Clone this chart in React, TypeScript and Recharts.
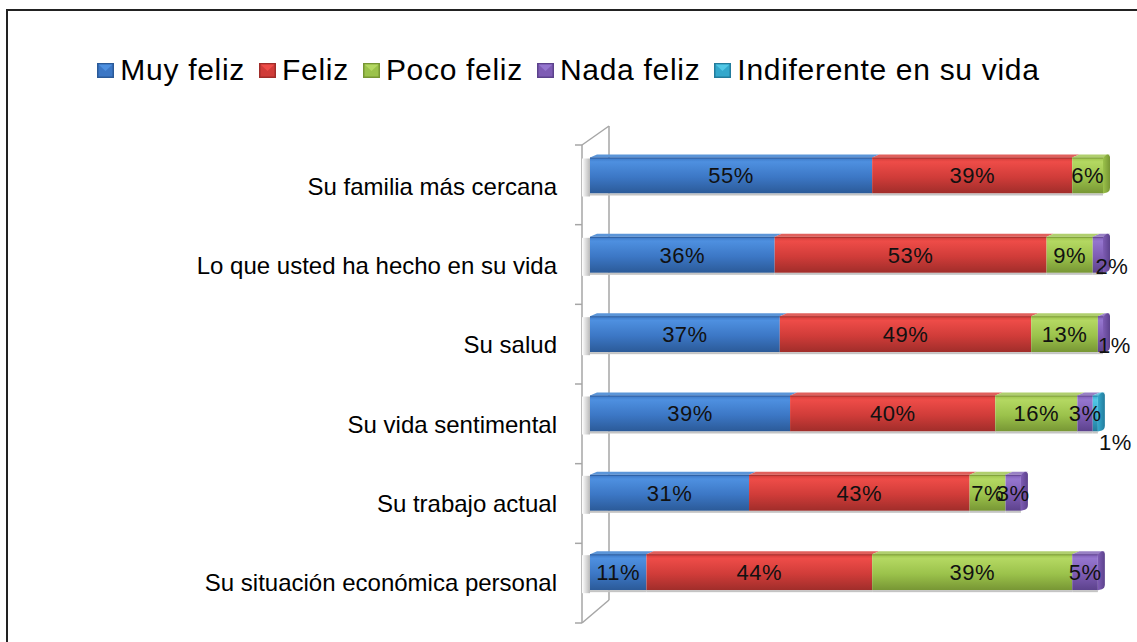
import { BarChart, Bar, XAxis, YAxis, Legend, LabelList } from "recharts";

// datos (porcentajes)
const categories = [
  "Su familia más cercana",
  "Lo que usted ha hecho en su vida",
  "Su salud",
  "Su vida sentimental",
  "Su trabajo actual",
  "Su situación económica personal",
];
const muyFeliz = [55, 36, 37, 39, 31, 11];
const feliz = [39, 53, 49, 40, 43, 44];
const pocoFeliz = [6, 9, 13, 16, 7, 39];
const nadaFeliz = [0, 2, 1, 3, 3, 5];
const indiferente = [0, 0, 0, 1, 0, 0];

const seriesNames = ["Muy feliz", "Feliz", "Poco feliz", "Nada feliz", "Indiferente en su vida"];
const seriesKeys = ["muy", "feliz", "poco", "nada", "indif"];
const seriesValues = [muyFeliz, feliz, pocoFeliz, nadaFeliz, indiferente];

const colors = [
  { light: "#4e90e0", mid: "#3c77c5", dark: "#2b5a98", top: "#5b95d8" },
  { light: "#ee4c48", mid: "#d03c39", dark: "#a02d2a", top: "#e0605c" },
  { light: "#b4d862", mid: "#9bc24b", dark: "#779634", top: "#b0cf6e" },
  { light: "#9576cf", mid: "#7e5cb4", dark: "#5c428c", top: "#9880c4" },
  { light: "#52c8e6", mid: "#34a8cc", dark: "#237c9c", top: "#6cc4de" },
];

const data = categories.map((name, i) => {
  const row: Record<string, string | number> = { name };
  seriesKeys.forEach((k, s) => {
    row[k] = seriesValues[s][i];
  });
  return row;
});

const W = 1137;
const H = 642;
const FONT = '"Liberation Sans", Arial, sans-serif';
const PLOT_LEFT = 590;
const PLOT_TOP = 135.5;
const PLOT_BOTTOM = 611.5;
const LEGEND_H = 40;
const margin = { top: PLOT_TOP - LEGEND_H, right: 34, bottom: H - PLOT_BOTTOM, left: 0 };
const DX = 7;
const DY = 3;

function make3DBar(idx: number) {
  return (props: any) => {
    const { x, y, width, height, payload } = props;
    if (!width || width <= 0) return <g />;
    const c = colors[idx];
    const isLast = seriesKeys.slice(idx + 1).every((k) => !payload[k]);
    const right = x + width;
    return (
      <g>
        {idx === 0 && (
          <rect x={x - 8} y={y + 1} width={8} height={height + 2} fill="url(#wallShadow)" />
        )}
        <polygon
          points={`${x},${y} ${right},${y} ${right + DX},${y - DY} ${x + DX},${y - DY}`}
          fill={c.top}
        />
        <rect x={x} y={y} width={width} height={height} fill={`url(#grad${idx})`} />
        <rect x={x} y={y} width={width} height={1.2} fill={c.dark} opacity={0.7} />
        <rect x={x} y={y + height} width={width} height={2} fill="#c4c4c4" />
        {isLast && (
          <path
            d={`M${right},${y} L${right + DX - 3},${y - DY} Q${right + DX},${y - DY} ${right + DX},${y} L${right + DX},${y + height - DY - 3} Q${right + DX},${y + height - DY + 1} ${right + DX - 3},${y + height - 1} L${right},${y + height} Z`}
            fill={`url(#side${idx})`}
          />
        )}
      </g>
    );
  };
}

function makeLabel(idx: number) {
  return (props: any) => {
    const { x, y, width, height, value } = props;
    if (!value) return null;
    let dx = 0;
    let dy = 0;
    // Excel desplaza las etiquetas de segmentos muy pequeños
    if (idx === 4) {
      dx = 20;
      dy = 29;
    } else if (value <= 2) {
      dx = 14;
      dy = 11;
    }
    return (
      <text
        x={x + width / 2 + dx}
        y={y + height / 2 + dy}
        dy="0.36em"
        textAnchor="middle"
        fontFamily={FONT}
        fontSize={22}
        letterSpacing={0.5}
        fill="#111"
      >
        {value}%
      </text>
    );
  };
}

function CategoryTick(props: any) {
  const { x, y, payload } = props;
  return (
    <text
      x={x}
      y={y + 11}
      dy="0.36em"
      textAnchor="end"
      fontFamily={FONT}
      fontSize={24}
      fill="#000"
    >
      {payload.value}
    </text>
  );
}

function LegendMarker({ idx }: { idx: number }) {
  const c = colors[idx];
  return (
    <svg width={17} height={15} style={{ display: "block" }}>
      <rect x={0} y={0} width={17} height={15} fill={c.dark} />
      <rect x={1.5} y={1.5} width={14} height={12} fill={c.mid} />
      <polygon points="1.5,1.5 15.5,1.5 8.5,8" fill={c.light} />
    </svg>
  );
}

function renderLegend() {
  return (
    <div
      style={{
        height: LEGEND_H,
        display: "flex",
        justifyContent: "center",
        alignItems: "center",
        fontFamily: FONT,
        fontSize: 30,
        letterSpacing: 0.7,
        color: "#000",
      }}
    >
      {seriesNames.map((n, i) => (
        <div key={n} style={{ display: "flex", alignItems: "center", marginRight: i < 4 ? 14 : 0 }}>
          <LegendMarker idx={i} />
          <span style={{ marginLeft: 6, whiteSpace: "nowrap" }}>{n}</span>
        </div>
      ))}
    </div>
  );
}

function Wall() {
  const fx = PLOT_LEFT - 8;
  const bx = PLOT_LEFT + 19;
  const fTop = PLOT_TOP + 9.5;
  const fBot = PLOT_BOTTOM + 11.5;
  const bTop = PLOT_TOP - 9.5;
  const bBot = PLOT_BOTTOM - 11.5;
  const band = (fBot - fTop) / categories.length;
  return (
    <svg width={W} height={H} style={{ position: "absolute", left: 0, top: 0 }}>
      <defs>
        {colors.map((c, i) => (
          <linearGradient key={i} id={`grad${i}`} x1="0" y1="0" x2="0" y2="1">
            <stop offset="0%" stopColor={c.mid} />
            <stop offset="12%" stopColor={c.light} />
            <stop offset="55%" stopColor={c.mid} />
            <stop offset="100%" stopColor={c.dark} />
          </linearGradient>
        ))}
        {colors.map((c, i) => (
          <linearGradient key={`s${i}`} id={`side${i}`} x1="0" y1="0" x2="1" y2="0">
            <stop offset="0%" stopColor={c.mid} />
            <stop offset="100%" stopColor={c.dark} />
          </linearGradient>
        ))}
        <linearGradient id="wallShadow" x1="0" y1="0" x2="1" y2="0">
          <stop offset="0%" stopColor="#ffffff" />
          <stop offset="100%" stopColor="#b8b8b8" />
        </linearGradient>
      </defs>
      <g stroke="#a6a6a6" strokeWidth={1.5} fill="none">
        <line x1={fx} y1={fTop} x2={fx} y2={fBot} />
        <line x1={bx} y1={bTop} x2={bx} y2={bBot} />
        <line x1={fx} y1={fTop} x2={bx} y2={bTop} />
        <line x1={fx} y1={fBot} x2={bx} y2={bBot} />
        {Array.from({ length: categories.length + 1 }, (_, i) => (
          <line key={i} x1={fx - 7} y1={fTop + i * band} x2={fx} y2={fTop + i * band} />
        ))}
      </g>
    </svg>
  );
}

export default function App() {
  return (
    <div
      style={{
        position: "absolute",
        left: 0,
        top: 0,
        width: W,
        height: H,
        overflow: "hidden",
        background: "#fff",
      }}
    >
      {/* marco */}
      <div
        style={{
          position: "absolute",
          left: 6,
          top: 9,
          width: W + 20,
          height: H + 20,
          borderTop: "2px solid #222",
          borderLeft: "2px solid #222",
        }}
      />
      <Wall />
      <div style={{ position: "absolute", left: 0, top: 0 }}>
        <BarChart width={W} height={H} data={data} layout="vertical" margin={margin}>
          <XAxis type="number" domain={[0, 100]} hide />
          <YAxis
            type="category"
            dataKey="name"
            width={PLOT_LEFT}
            axisLine={false}
            tickLine={false}
            tickSize={0}
            tickMargin={33}
            tick={<CategoryTick />}
            interval={0}
          />
          <Legend
            verticalAlign="top"
            align="center"
            content={renderLegend}
            wrapperStyle={{ top: 50, left: 0, width: W, height: LEGEND_H }}
          />
          {seriesKeys.map((k, i) => (
            <Bar
              key={k}
              dataKey={k}
              name={seriesNames[i]}
              stackId="a"
              barSize={36}
              fill={colors[i].mid}
              shape={make3DBar(i)}
              isAnimationActive={false}
            >
              <LabelList dataKey={k} content={makeLabel(i)} />
            </Bar>
          ))}
        </BarChart>
      </div>
    </div>
  );
}
